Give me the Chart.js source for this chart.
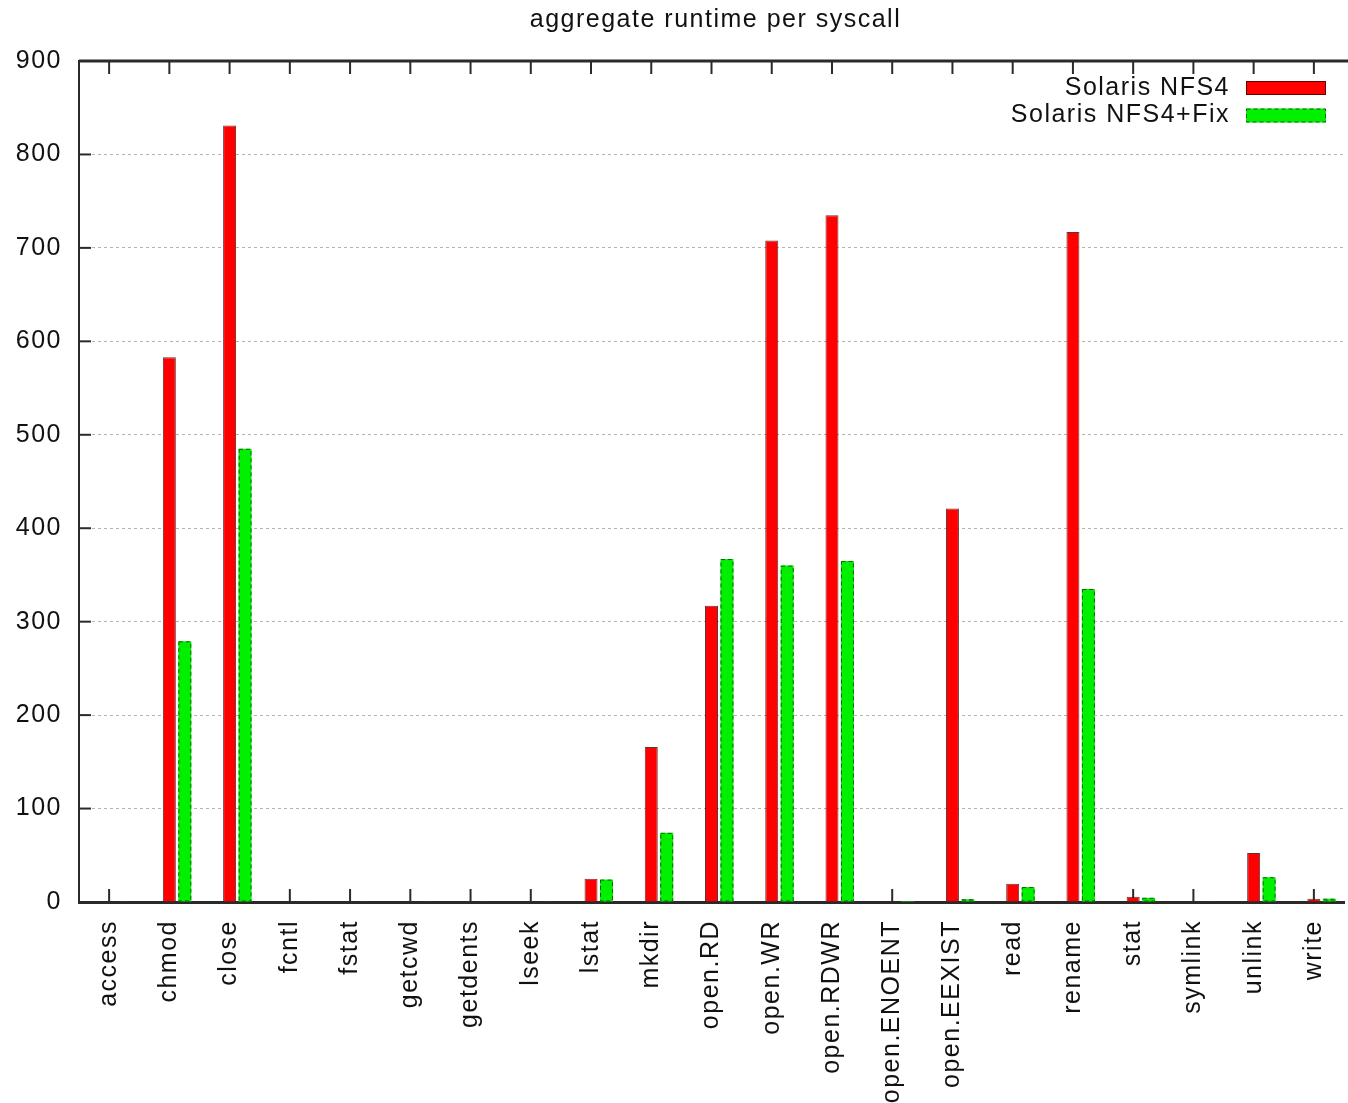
<!DOCTYPE html>
<html>
<head>
<meta charset="utf-8">
<script src="https://cdn.jsdelivr.net/npm/chart.js@4.4.1/dist/chart.umd.min.js"></script>
<style>
html,body{margin:0;padding:0;background:#fff;}
#wrap{width:1348px;height:1103px;position:relative;}
</style>
</head>
<body>
<div id="wrap"><canvas id="c" width="1348" height="1103"></canvas></div>
<script>
const titleText = 'aggregate runtime per syscall';
const categories = ['access','chmod','close','fcntl','fstat','getcwd','getdents','lseek','lstat','mkdir','open.RD','open.WR','open.RDWR','open.ENOENT','open.EEXIST','read','rename','stat','symlink','unlink','write'];
const seriesNames = ['Solaris NFS4','Solaris NFS4+Fix'];
const nfs4 = [0.8, 583, 831, 0.5, 0.5, 0.5, 0.5, 0.5, 25, 166, 317, 708, 735, 1, 421, 19.5, 717, 5.5, 0.5, 52.5, 3.5];
const nfs4Fix = [0.5, 279, 485, 0.5, 0.5, 0.5, 0.5, 0.5, 24, 74, 367, 360, 365, 1, 3, 16, 335, 4.5, 0.5, 26.5, 3.5];
const spacer = categories.map(() => null);
const yTicks = [0,100,200,300,400,500,600,700,800,900];

const FONT = {family: "'Liberation Sans', Arial, sans-serif", size: 25};
const LS = '1.5px';
const TXT = '#111';
const GREEN = '#00f000';

function setLS(chart){ chart.ctx.letterSpacing = LS; }

const frame = {
  id: 'frame',
  beforeUpdate: setLS,
  beforeLayout: setLS,
  beforeDraw: setLS,
  beforeDatasetsDraw(chart){
    const {ctx, chartArea: a, scales: {x, y}} = chart;
    ctx.save();
    ctx.strokeStyle = '#2a2a2a';
    ctx.lineWidth = 2;
    const line = (x1,y1,x2,y2) => { ctx.beginPath(); ctx.moveTo(x1,y1); ctx.lineTo(x2,y2); ctx.stroke(); };
    y.ticks.forEach((t,i) => { const py = y.getPixelForTick(i); line(a.left, py, a.left+12, py); });
    x.ticks.forEach((t,i) => { const px = x.getPixelForTick(i); line(px, a.top, px, a.top+13); line(px, a.bottom, px, a.bottom-13); });
    ctx.lineWidth = 3;
    line(a.left, a.top, chart.width, a.top);
    ctx.restore();
    // title centred over the plot area
    ctx.save();
    ctx.letterSpacing = LS;
    ctx.font = `${FONT.size}px ${FONT.family}`;
    ctx.fillStyle = TXT;
    ctx.textAlign = 'center';
    ctx.textBaseline = 'middle';
    ctx.fillText(titleText, (a.left + chart.width) / 2 + 2, 20);
    ctx.restore();
  },
  afterDatasetsDraw(chart){
    const {ctx} = chart;
    const meta = chart.getDatasetMeta(2);
    ctx.save();
    ctx.letterSpacing = '0px';
    ctx.setLineDash([4,3]);
    ctx.strokeStyle = 'rgba(20,70,20,0.85)';
    ctx.lineWidth = 1;
    meta.data.forEach(el => {
      const p = el.getProps(['x','y','base','width'], true);
      if (Math.abs(p.base - p.y) < 1) return;
      ctx.strokeRect(p.x - p.width/2 + 0.5, p.y + 0.5, p.width - 1, p.base - p.y - 1);
    });
    ctx.restore();
    // legend
    ctx.save();
    ctx.letterSpacing = LS;
    ctx.font = `${FONT.size}px ${FONT.family}`;
    ctx.fillStyle = TXT;
    ctx.textAlign = 'right';
    ctx.textBaseline = 'middle';
    const rows = [{name: seriesNames[0], y: 88, fill: '#ff0000', dash: []}, {name: seriesNames[1], y: 115.5, fill: GREEN, dash: [4,3]}];
    rows.forEach(r => {
      ctx.fillText(r.name, 1230, r.y);
      ctx.fillStyle = r.fill;
      ctx.fillRect(1246, r.y - 7, 80, 14);
      ctx.setLineDash(r.dash);
      ctx.strokeStyle = r.dash.length ? 'rgba(20,70,20,0.85)' : 'rgba(60,0,0,0.8)';
      ctx.lineWidth = 1;
      ctx.strokeRect(1246.5, r.y - 6.5, 79, 13);
      ctx.setLineDash([]);
      ctx.fillStyle = TXT;
    });
    ctx.restore();
  }
};

new Chart(document.getElementById('c'), {
  type: 'bar',
  data: {
    labels: categories,
    datasets: [
      {label: 'spacer', data: spacer, backgroundColor: 'rgba(0,0,0,0)'},
      {label: seriesNames[0], data: nfs4, backgroundColor: '#ff0000', borderColor: 'rgba(60,0,0,0.8)', borderWidth: 1},
      {label: seriesNames[1], data: nfs4Fix, backgroundColor: GREEN, borderWidth: 0}
    ]
  },
  options: {
    responsive: false,
    animation: false,
    devicePixelRatio: 1,
    categoryPercentage: 0.77,
    barPercentage: 0.84,
    layout: {padding: {left: 0, right: 4, top: 61, bottom: 0}},
    plugins: {
      legend: {display: false},
      tooltip: {enabled: false},
      title: {display: false}
    },
    scales: {
      x: {
        grid: {display: false, drawTicks: false},
        border: {display: true, color: '#2a2a2a', width: 3},
        ticks: {color: TXT, font: FONT, minRotation: 90, maxRotation: 90, autoSkip: false, padding: 18},
        afterFit(scale){ scale.height = 201; scale.paddingLeft = 0; scale.paddingRight = 0; }
      },
      y: {
        min: 0, max: 900,
        afterBuildTicks(scale){ scale.ticks = yTicks.map(v => ({value: v})); },
        grid: {color: '#b4b4b4', lineWidth: 1, drawTicks: false},
        border: {display: true, color: '#2a2a2a', width: 2, dash: [3,3]},
        ticks: {color: TXT, font: FONT, padding: 17},
        afterFit(scale){ scale.width = 79; scale.paddingTop = 0; scale.paddingBottom = 0; }
      }
    }
  },
  plugins: [frame]
});
</script>
</body>
</html>
